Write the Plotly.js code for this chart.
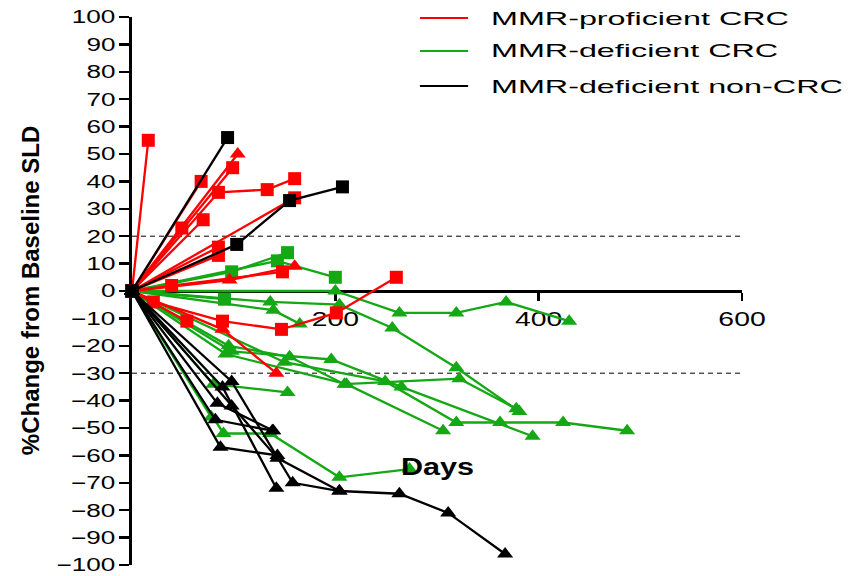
<!DOCTYPE html>
<html>
<head>
<meta charset="utf-8">
<script src="https://cdn.plot.ly/plotly-3.0.1.min.js"></script>
<style>
  html, body { margin: 0; padding: 0; background: #ffffff; }
  #chart { width: 855px; height: 576px; }
</style>
</head>
<body>
<div id="chart"></div>
<script>
// ---- data: % change from baseline SLD over days, one array per patient ----
const groupNames = ['MMR-proficient CRC', 'MMR-deficient CRC', 'MMR-deficient non-CRC'];

const redDays = [
  [0, 16], [0, 68], [0, 99], [0, 104], [0, 85, 133, 160], [0, 160],
  [0, 70], [0, 49], [0, 85], [0, 85], [0, 39, 148], [0, 96, 160],
  [0, 21, 89, 147, 201, 260], [0, 54], [0, 89, 142]
];
const redPct = [
  [0, 55], [0, 40], [0, 45], [0, 50], [0, 36, 37, 41], [0, 34],
  [0, 26], [0, 23], [0, 16], [0, 13], [0, 2, 7], [0, 4, 9],
  [0, -4, -11, -14, -8, 5], [0, -11], [0, -14, -30]
];

const greenDays = [
  [0, 98, 153], [0, 143, 200], [0, 91],
  [0, 200, 263, 319, 368, 430],
  [0, 136, 204, 256, 319, 381],
  [0, 139, 165],
  [0, 98, 196, 265, 394],
  [0, 95, 155, 209, 322, 378],
  [0, 150, 249, 319, 362, 424, 487],
  [0, 92, 211, 306],
  [0, 80, 153],
  [0, 90, 136, 204, 273],
  [0, 78]
];
const greenPct = [
  [0, 7, 14], [0, 11, 5], [0, -3],
  [0, 0, -8, -8, -4, -11],
  [0, -4, -5, -13.5, -28, -44],
  [0, -7, -12],
  [0, -22, -25, -35, -53],
  [0, -20, -24, -34, -32, -43],
  [0, -26, -33, -48, -48, -48, -51],
  [0, -23, -34, -51],
  [0, -34, -37],
  [0, -52, -52, -68, -65],
  [0, -46]
];

const blackDays = [
  [0, 94], [0, 103, 155, 207],
  [0, 87, 143], [0, 82, 138],
  [0, 98, 158, 204, 263, 311, 367],
  [0, 89, 142], [0, 84, 139], [0, 98, 143, 204]
];
const blackPct = [
  [0, 56], [0, 17, 33, 38],
  [0, -57, -60], [0, -47, -51],
  [0, -33, -70, -73, -74, -81, -96],
  [0, -35, -72], [0, -41, -51], [0, -42, -61, -73]
];

const xTickVals = [200, 400, 600];
const yTickVals = [100, 90, 80, 70, 60, 50, 40, 30, 20, 10, 0,
                   -10, -20, -30, -40, -50, -60, -70, -80, -90, -100];
const refLevels = [20, -30];
const xTitle = 'Days';
const yTitle = '%Change from Baseline SLD';

// ---- styles ----
const SQ = 'square', TRI = 'triangle-up';
const redShape = [SQ, SQ, SQ, TRI, SQ, SQ, SQ, SQ, SQ, SQ, SQ, TRI, SQ, SQ, TRI];
const greenShape = [SQ, SQ, SQ, TRI, TRI, TRI, TRI, TRI, TRI, TRI, TRI, TRI, TRI];
const blackShape = [SQ, SQ, TRI, TRI, TRI, TRI, TRI, TRI];
const colors = ['#ff0000', '#14a814', '#000000'];
const FONT = 'Liberation Sans, Arial, sans-serif';

const traces = [];
function addGroup(daysList, pctList, shapes, color, name) {
  daysList.forEach((d, i) => {
    traces.push({
      type: 'scatter',
      mode: 'lines+markers',
      name: name,
      x: d,
      y: pctList[i],
      line: { color: color, width: 2.3 },
      marker: { symbol: shapes[i], size: shapes[i] === SQ ? 13 : 14, color: color },
      cliponaxis: false,
      showlegend: false,
      hoverinfo: 'x+y'
    });
  });
}
// green underneath, then red, black on top
addGroup(greenDays, greenPct, greenShape, colors[1], groupNames[1]);
addGroup(redDays, redPct, redShape, colors[0], groupNames[0]);
addGroup(blackDays, blackPct, blackShape, colors[2], groupNames[2]);

// dashed reference levels across the plot
const shapes = refLevels.map(v => ({
  type: 'line', xref: 'paper', x0: 0, x1: 1, yref: 'y', y0: v, y1: v,
  line: { color: '#000', width: 1, dash: '5px,4px' }, layer: 'below'
}));

// legend rows drawn as swatch + label
const legendY = [0.998, 0.938, 0.874];
const annotations = [
  { xref: 'paper', yref: 'paper', x: -0.167, y: 0.5, text: yTitle, textangle: -90,
    showarrow: false, xanchor: 'center', yanchor: 'middle',
    font: { family: FONT, size: 24, color: '#000', weight: 'bold' } },
  { xref: 'paper', yref: 'paper', x: 0.5, y: 0.179, text: xTitle,
    showarrow: false, xanchor: 'center', yanchor: 'middle',
    font: { family: FONT, size: 23, color: '#000', weight: 'bold' } }
];
groupNames.forEach((g, i) => {
  shapes.push({
    type: 'line', xref: 'paper', yref: 'paper', x0: 0.472, x1: 0.551,
    y0: legendY[i], y1: legendY[i], line: { color: colors[i], width: 2 }
  });
  annotations.push({
    xref: 'paper', yref: 'paper', x: 0.585, y: legendY[i], text: g,
    showarrow: false, xanchor: 'left', yanchor: 'middle', align: 'left',
    font: { family: FONT, size: 19, color: '#000' }
  });
});

const layout = {
  width: 855, height: 576,
  margin: { l: 132, r: 113, t: 17, b: 11 },
  paper_bgcolor: '#ffffff', plot_bgcolor: '#ffffff',
  showlegend: false,
  xaxis: {
    range: [0, 600], anchor: 'free', position: 0.5,
    tickmode: 'array', tickvals: xTickVals,
    ticks: 'outside', ticklen: 8, tickwidth: 2.5, tickcolor: '#000',
    showline: true, linewidth: 2.5, linecolor: '#000',
    showgrid: false, zeroline: false, layer: 'below traces',
    tickfont: { family: FONT, size: 21, color: '#000' }
  },
  yaxis: {
    range: [-100, 100],
    tickmode: 'array', tickvals: yTickVals,
    ticks: 'outside', ticklen: 10, tickwidth: 2.5, tickcolor: '#000',
    showline: true, linewidth: 3, linecolor: '#000',
    showgrid: false, zeroline: false, layer: 'below traces',
    tickfont: { family: FONT, size: 18, color: '#000' }
  },
  shapes: shapes,
  annotations: annotations
};

Plotly.newPlot('chart', traces, layout, { displayModeBar: false, staticPlot: true }).then(gd => {
  // widen glyphs horizontally, keeping each label's anchor
  const widen = (els, k) => els.forEach(t => {
    const w = t.getComputedTextLength();
    if (w > 0) {
      t.setAttribute('textLength', (w * k).toFixed(1));
      t.setAttribute('lengthAdjust', 'spacingAndGlyphs');
    }
  });
  widen(gd.querySelectorAll('.ytick text'), 1.45);
  widen(gd.querySelectorAll('.xtick text'), 1.35);
  const ann = gd.querySelectorAll('.annotation-text');
  widen([ann[1]], 1.33);
  widen([ann[2], ann[3], ann[4]], 1.7);
});
</script>
</body>
</html>
